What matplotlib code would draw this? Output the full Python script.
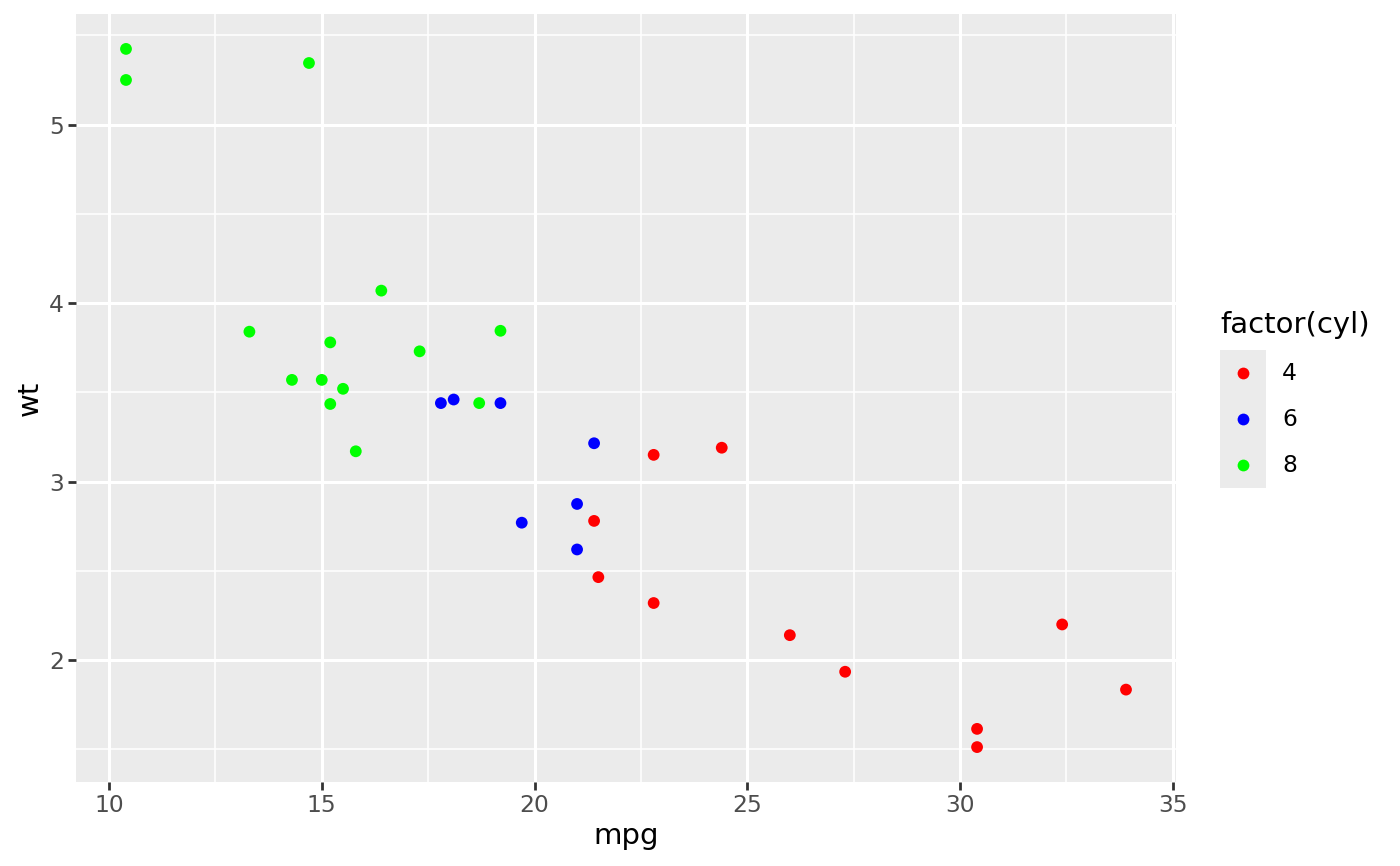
import numpy as np
import matplotlib
matplotlib.use("Agg")
import matplotlib.pyplot as plt

# mtcars: mpg, wt, cyl
mpg = [21.0, 21.0, 22.8, 21.4, 18.7, 18.1, 14.3, 24.4, 22.8, 19.2, 17.8,
       16.4, 17.3, 15.2, 10.4, 10.4, 14.7, 32.4, 30.4, 33.9, 21.5, 15.5,
       15.2, 13.3, 19.2, 27.3, 26.0, 30.4, 15.8, 19.7, 15.0, 21.4]
wt = [2.620, 2.875, 2.320, 3.215, 3.440, 3.460, 3.570, 3.190, 3.150, 3.440,
      3.440, 4.070, 3.730, 3.780, 5.250, 5.424, 5.345, 2.200, 1.615, 1.835,
      2.465, 3.520, 3.435, 3.840, 3.845, 1.935, 2.140, 1.513, 3.170, 2.770,
      3.570, 2.780]
cyl = [6, 6, 4, 6, 8, 6, 8, 4, 4, 6, 6, 8, 8, 8, 8, 8, 8, 4, 4, 4, 4, 8,
       8, 8, 8, 4, 4, 4, 8, 6, 8, 4]
levels = [4, 6, 8]
colours = {4: "#FF0000", 6: "#0000FF", 8: "#00FF00"}

W, H = 1400, 866
fig = plt.figure(figsize=(W / 100, H / 100), dpi=100)

# panel in pixel coords
L, R, T, B = 76, 1176, 14, 782
ax = fig.add_axes([L / W, 1 - B / H, (R - L) / W, (B - T) / H])
ax.set_facecolor("#EBEBEB")
for s in ax.spines.values():
    s.set_visible(False)

mpg = np.array(mpg)
wt = np.array(wt)
cyl = np.array(cyl)
ax.scatter(mpg, wt, c=[colours[c] for c in cyl], s=72, linewidths=0, zorder=3)

xr = mpg.max() - mpg.min()
yr = wt.max() - wt.min()
ax.set_xlim(mpg.min() - 0.05 * xr, mpg.max() + 0.05 * xr)
ax.set_ylim(wt.min() - 0.05 * yr, wt.max() + 0.05 * yr)

ax.set_xticks([10, 15, 20, 25, 30, 35])
ax.set_yticks([2, 3, 4, 5])
ax.set_xticks([12.5, 17.5, 22.5, 27.5, 32.5], minor=True)
ax.set_yticks([1.5, 2.5, 3.5, 4.5, 5.5], minor=True)
ax.grid(True, which="major", color="white", linewidth=2.2, zorder=0)
ax.grid(True, which="minor", color="white", linewidth=1.1, zorder=0)
ax.set_axisbelow(True)
ax.tick_params(which="major", length=5.5, width=2.0, color="#333333",
               labelsize=16.8, labelcolor="#4D4D4D", pad=3)
ax.tick_params(which="minor", length=0)

ax.set_xlabel("mpg", fontsize=21, labelpad=4)
ax.set_ylabel("wt", fontsize=21)
ax.yaxis.set_label_coords((44 - L) / (R - L), 0.5)

# legend
fig.text(1220 / W, 1 - 325 / H, "factor(cyl)", fontsize=21, va="center", ha="left")
lk = fig.add_axes([1220 / W, 1 - 488 / H, 46 / W, 138 / H])
lk.set_facecolor("#EBEBEB")
for s in lk.spines.values():
    s.set_visible(False)
lk.set_xticks([])
lk.set_yticks([])
lk.set_xlim(0, 1)
lk.set_ylim(0, 3)
for i, lv in enumerate(levels):
    yk = 2.5 - i
    lk.scatter([0.5], [yk], color=colours[lv], s=72, linewidths=0)
    lk.text(62 / 46, yk, str(lv), fontsize=16.8, va="center", ha="left",
            transform=lk.transData, clip_on=False)

fig.savefig("out.png", dpi=100)
